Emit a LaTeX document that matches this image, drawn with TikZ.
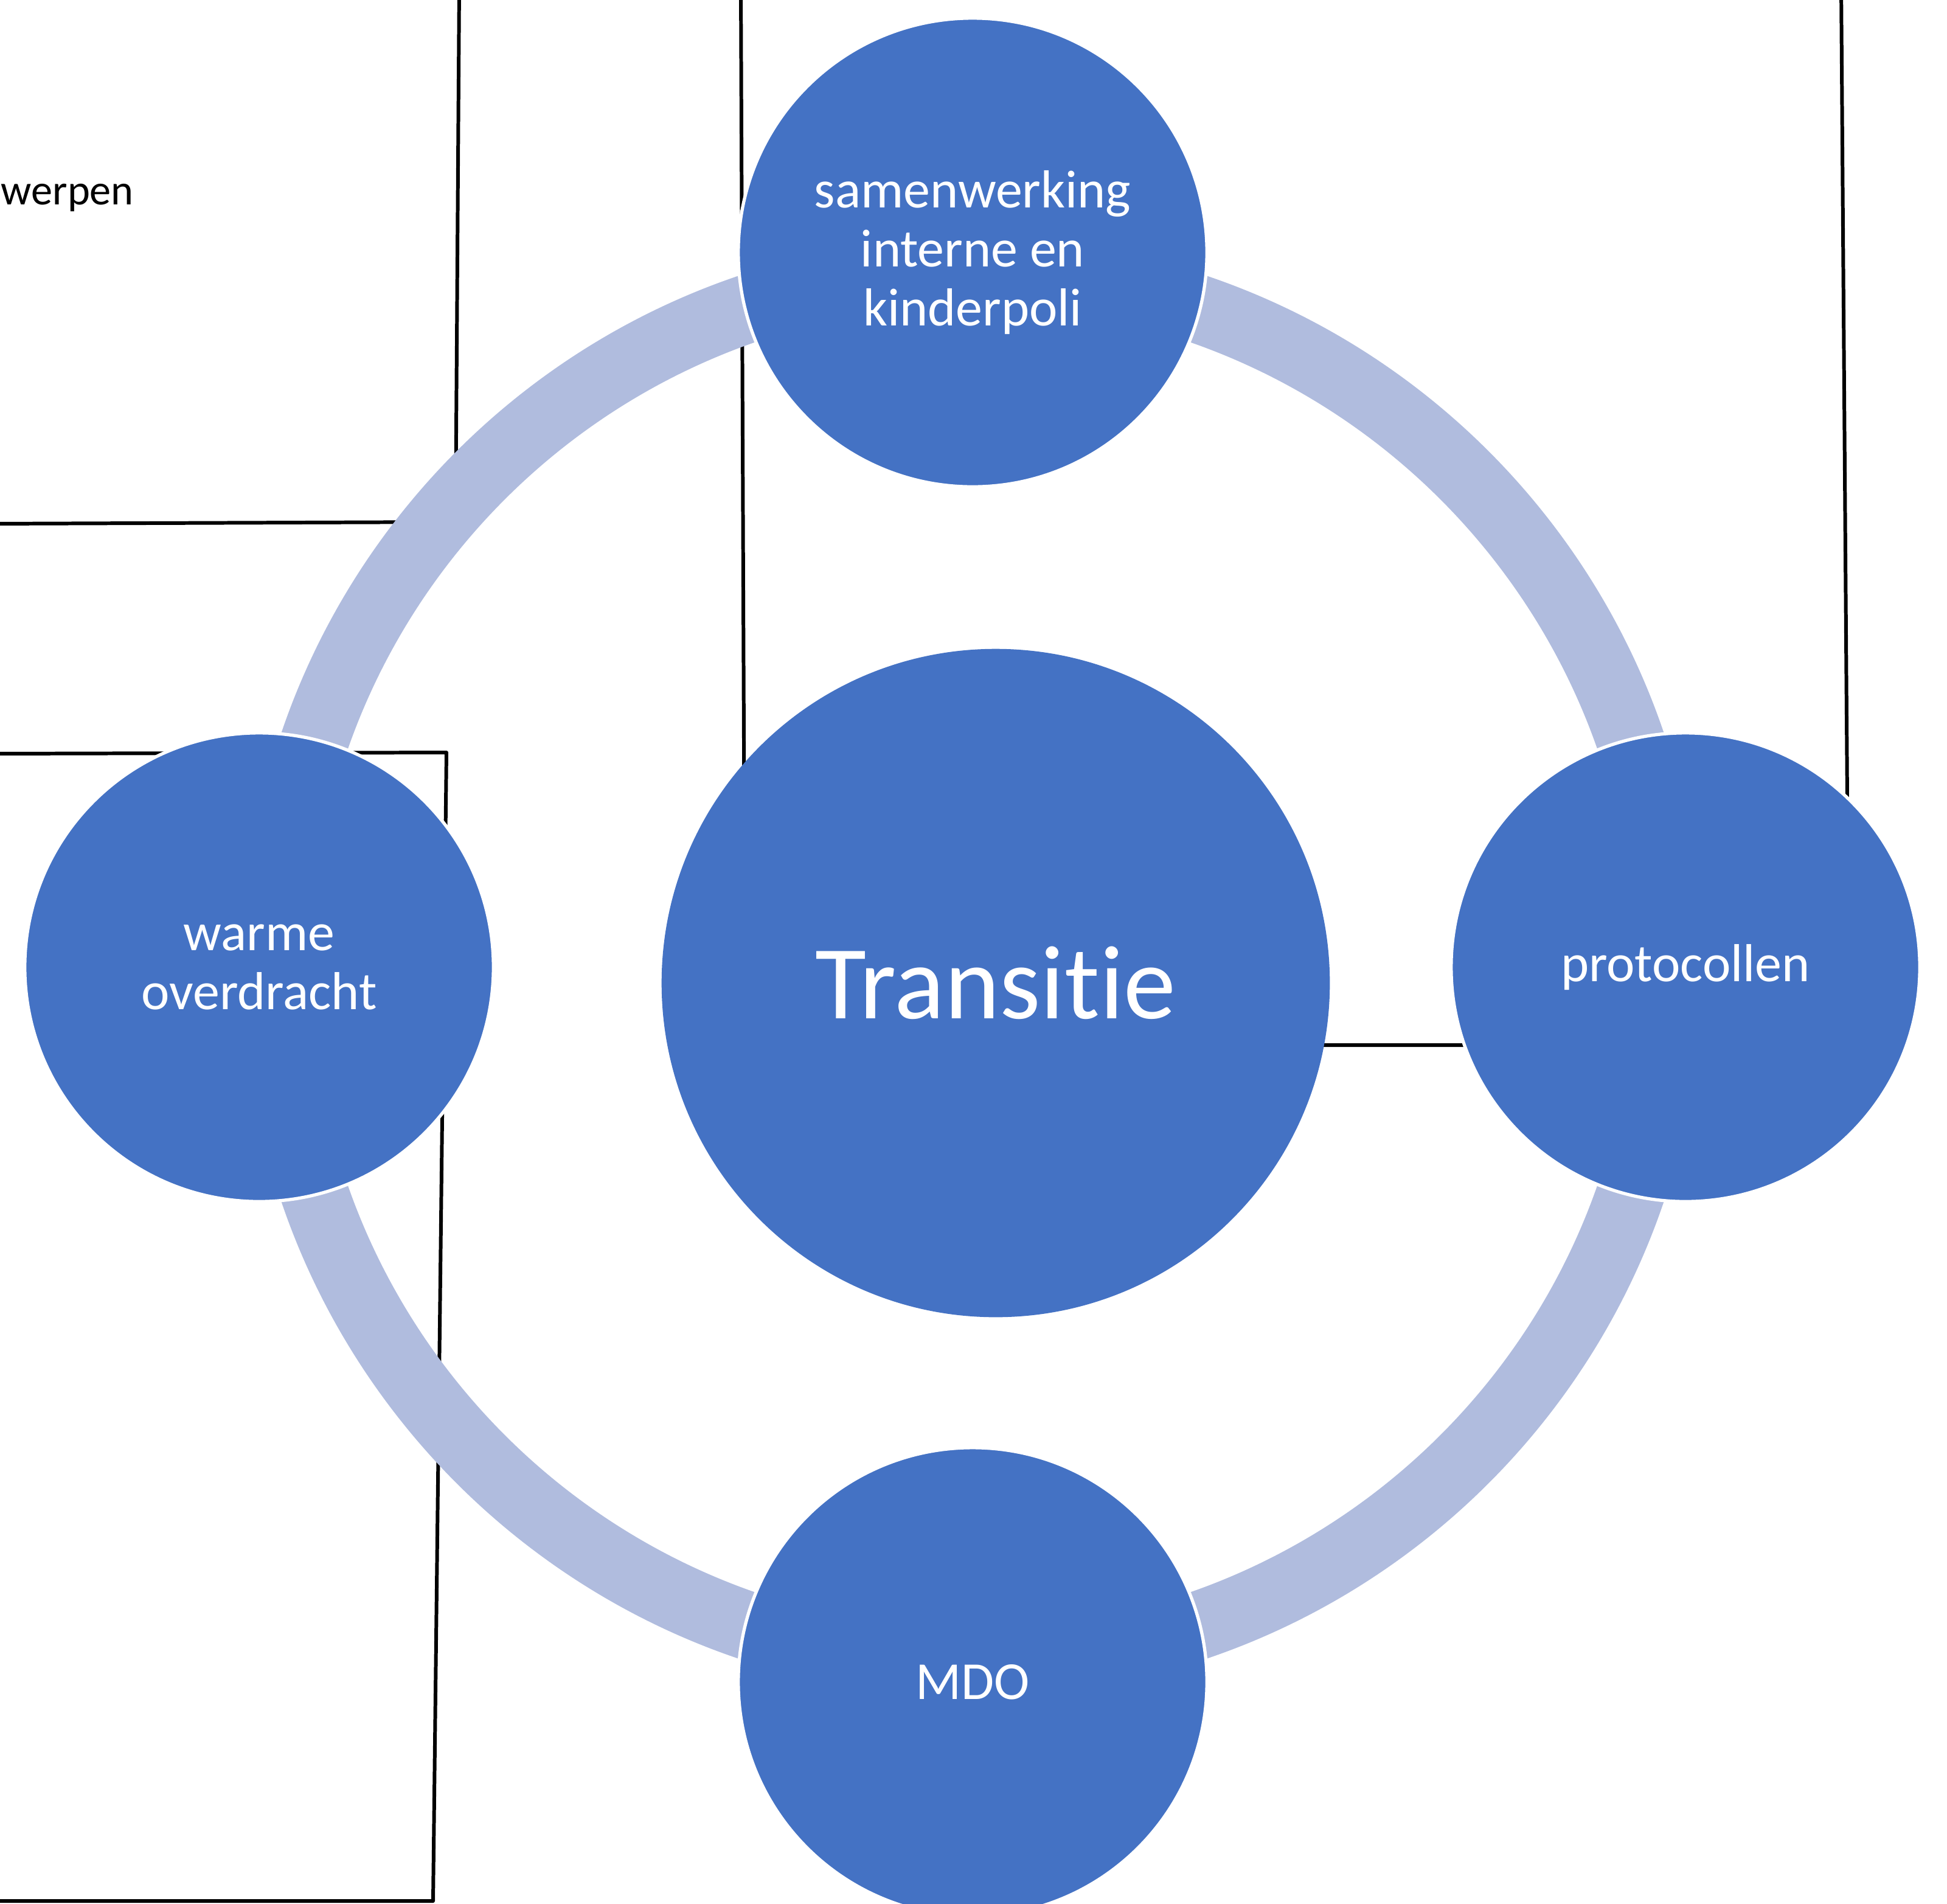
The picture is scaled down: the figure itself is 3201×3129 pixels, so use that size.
\documentclass[tikz,border=0pt]{standalone}
\usepackage{fontspec}
\setmainfont[Ligatures=NoCommon]{Carlito}
\usepackage{tikz}
\definecolor{satblue}{RGB}{68,114,196}
\definecolor{ringblue}{RGB}{176,188,222}
\tikzset{
	sat/.style={circle,fill=satblue,draw=white,line width=1.5pt,minimum size=7.7cm,inner sep=0pt,text=white,align=center,font=\fontsize{25}{27.5}\selectfont},
	hub/.style={circle,fill=satblue,minimum size=10.98cm,inner sep=0pt,text=white,font=\fontsize{49}{58}\selectfont},
	sketch/.style={black,line width=1.7pt,line join=round},
}

\begin{document}
\begin{tikzpicture}[x=0.01cm,y=-0.01cm]
		\useasboundingbox (0,0) rectangle (3201,3129);
		% boxes behind the cycle
		\draw[sketch] (755,-20) -- (749,858) -- (-20,861);
		\draw[sketch] (1218,-20) -- (1225,1718) -- (3040,1718) -- (3027,-20);
		\draw[sketch] (-20,1239) -- (734,1237) -- (712,3125) -- (-20,3125);
		\node[anchor=base west,inner sep=0pt,font=\fontsize{20}{24}\selectfont] (werpen) at (1,336) {werpen};
		% ring
		\coordinate (mid) at (1599,1590);
		\draw[ringblue,line width=1.12cm] (mid) circle[radius=11.43cm];
		\node[hub] (hub) at (1637,1616) {Transitie};
		\node[sat] (top) at (1599,415) {samenwerking\\interne en\\kinderpoli};
		\node[sat] (left) at (426,1590) {warme\\overdracht};
		\node[sat] (right) at (2771,1590) {protocollen};
		\node[sat] (bottom) at (1599,2765) {MDO};
	\end{tikzpicture}
\end{document}
